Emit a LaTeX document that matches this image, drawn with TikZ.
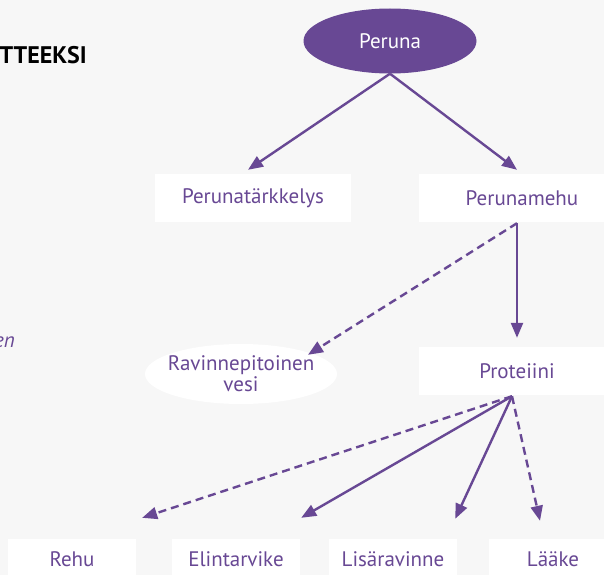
\documentclass[tikz,border=0pt]{standalone}
\usepackage{fontspec}
\setmainfont{PT Sans}
\usetikzlibrary{arrows.meta,shapes.geometric}
\definecolor{purp}{RGB}{104,72,148}
\definecolor{bgray}{RGB}{247,247,247}
\tikzset{
  lbl/.style={text=purp, font=\fontsize{21}{21}\selectfont, inner sep=0pt},
  box/.style={lbl, fill=white, minimum width=196pt, minimum height=48pt},
  smallbox/.style={box, minimum width=128pt, minimum height=40pt},
  oval/.style={lbl, ellipse, fill=white, align=center},
  arr/.style={draw=purp, line width=2.4pt, -{Triangle[length=15pt,width=12pt]}},
  dsh/.style={arr, dash pattern=on 8pt off 5pt}
}
\begin{document}
\begin{tikzpicture}[x=1pt,y=1pt]
\useasboundingbox (0,0) rectangle (604,-575);
\clip (0,0) rectangle (604,-575);
\fill[bgray] (0,0) rectangle (604,-575);

\node[anchor=east, font=\fontsize{24}{24}\selectfont\bfseries, inner sep=0pt] (title) at (87,-55) {TTEEKSI};
\node[anchor=east, lbl, font=\fontsize{21}{21}\selectfont\itshape, inner sep=0pt] (note) at (15,-342) {en};

\node[oval, fill=purp, text=white, minimum width=173pt, minimum height=65pt] (peruna) at (390,-41) {Peruna};
\node[box] (tarkkelys) at (253,-198) {Perunatärkkelys};
\node[box] (mehu) at (517,-198) {\hspace*{10pt}Perunamehu};
\node[oval, minimum width=192pt, minimum height=60pt, inner ysep=0pt, inner xsep=-6pt] (vesi) at (241,-374) {Ravinnepitoinen\\vesi};
\node[box] (proteiini) at (517,-371) {Proteiini};

\foreach \name/\x/\txt in {rehu/72/Rehu, elintarvike/236/Elintarvike, lisaravinne/393/Lisäravinne, laake/553/Lääke}
  \node[smallbox] (\name) at (\x,-559) {\txt};

\draw[arr] (peruna.south) -- ([shift={(-5,4)}]tarkkelys.north);
\draw[arr] (peruna.south) -- ([shift={(0,4)}]mehu.north);
\draw[dsh] ([yshift=-1]mehu.south) -- ([shift={(67,-11)}]vesi.north);
\draw[arr] ([yshift=-1]mehu.south) -- ([yshift=9]proteiini.north);
\draw[dsh] ([shift={(-5,-1)}]proteiini.south) -- ([shift={(6,21)}]rehu.north east);
\draw[arr] ([shift={(-5,-1)}]proteiini.south) -- ([shift={(1,21)}]elintarvike.north east);
\draw[arr] ([shift={(-5,-1)}]proteiini.south) -- ([shift={(-2,20)}]lisaravinne.north east);
\draw[dsh] ([shift={(-5,-1)}]proteiini.south) -- ([shift={(-13,18)}]laake.north);
\end{tikzpicture}
\end{document}
